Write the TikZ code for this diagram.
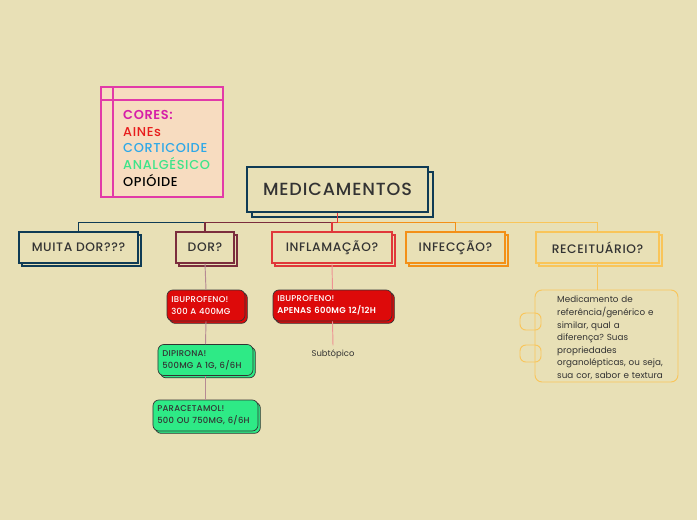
\documentclass[tikz,border=0pt]{standalone}
\usepackage{fontspec}
\setmainfont{Poppins}[UprightFont={* Medium}, BoldFont={* SemiBold}, LetterSpace=5]
\newfontfamily\notefont{Poppins}
\newfontfamily\medfont{Poppins}[UprightFont={* Medium}, BoldFont={* SemiBold}, LetterSpace=3]
\usetikzlibrary{shadows, positioning}
\definecolor{paper}{HTML}{E8E0B6}
\definecolor{peach}{HTML}{F7DCC0}
\definecolor{magentaline}{HTML}{E23AA8}
\definecolor{navy}{HTML}{0F3B55}
\definecolor{maroon}{HTML}{7B2D3D}
\definecolor{redline}{HTML}{E0383A}
\definecolor{orangeline}{HTML}{F39017}
\definecolor{sunline}{HTML}{F9C55A}
\definecolor{medred}{HTML}{DD0A0A}
\definecolor{medgreen}{HTML}{2EEA86}
\definecolor{inkgray}{HTML}{333333}
\definecolor{coresmag}{HTML}{D61EA8}
\definecolor{ainered}{HTML}{E81C1C}
\definecolor{cortblue}{HTML}{2EA8E8}
\definecolor{analggreen}{HTML}{3EE48A}
\frenchspacing

\begin{document}
\begin{tikzpicture}[
    x=0.03cm, y=-0.03cm,
    topic/.style={draw=#1, line width=1.1pt, fill=paper, text=inkgray, font=\fontsize{10.5}{12}\selectfont,
      minimum height=0.93cm, inner sep=0pt,
      general shadow={draw=#1, line width=1.1pt, fill=paper, shadow xshift=0.09cm, shadow yshift=-0.09cm}},
    medbox/.style={draw=inkgray, line width=0.6pt, fill=#1, rounded corners=5pt, align=left,
      font=\medfont\fontsize{7.2}{10}\selectfont, minimum height=0.93cm, inner xsep=0.13cm, inner ysep=0pt,
      general shadow={draw=inkgray, line width=0.6pt, fill=#1, shadow xshift=0.07cm, shadow yshift=-0.07cm}},
    link/.style={line width=1.1pt, draw=#1},
    sublink/.style={line width=0.8pt, draw=#1}
  ]
  % Canvas
  \fill[paper] (0,0) rectangle (697,520);
  \useasboundingbox (0,0) rectangle (697,520);

  % Legend
  \node[draw=magentaline, line width=0.9pt, fill=peach, minimum width=3.66cm, minimum height=3.3cm] (legend) at (162,142) {};
  \draw[magentaline, line width=0.9pt] (113,87) -- (113,197);
  \draw[magentaline, line width=0.9pt] (101,100) -- (223,100);
  \node[anchor=north west, align=left, inner sep=0pt, font=\fontsize{11}{14.3}\selectfont] (colours) at (123,110)
    {\textcolor{coresmag}{\textbf{CORES:}}\\
     \textcolor{ainered}{AINEs}\\
     \textcolor{cortblue}{CORTICOIDE}\\
     \textcolor{analggreen}{ANALGÉSICO}\\
     \textcolor{black}{OPIÓIDE}};

  % Central topic
  \node[draw=navy, line width=1.3pt, fill=paper, text=inkgray, minimum width=5.43cm, minimum height=1.35cm,
    font=\fontsize{15}{18}\selectfont,
    general shadow={draw=navy, line width=1.3pt, fill=paper, shadow xshift=0.15cm, shadow yshift=-0.15cm}]
    (med) at (337.5,189.5) {MEDICAMENTOS};

  % Main topics
  \node[topic=navy, minimum width=3.57cm] (muita) at (78.5,247.5) {MUITA DOR???};
  \node[topic=maroon, minimum width=1.74cm] (dor) at (205,247.5) {DOR?};
  \node[topic=redline, minimum width=3.6cm] (inflam) at (332,247.5) {INFLAMAÇÃO?};
  \node[topic=orangeline, minimum width=2.97cm] (infec) at (455.5,247.5) {INFECÇÃO?};
  \node[topic=sunline, minimum width=3.69cm] (receit) at (597.5,247.5) {RECEITUÁRIO?};

  % Branches from the centre
  \draw[link=navy] (med.south) -- ++(0,10) -| (muita.north);
  \draw[link=maroon] (med.south) -- ++(0,10) -| (dor.north);
  \draw[link=sunline] (med.south) -- ++(0,10) -| (receit.north);
  \draw[link=orangeline] (med.south) -- ++(0,10) -| (infec.north);
  \draw[link=redline] (med.south) -- ++(0,10) -| (inflam.north);

  % Subtopics of DOR?
  \node[medbox=medred, text=white, text width=2.08cm] (ibuA) at (206,305.5) {IBUPROFENO!\\300 A 400MG};
  \node[medbox=medgreen, text=inkgray, text width=2.59cm] (dipi) at (205.5,360) {DIPIRONA!\\500MG A 1G, 6/6H};
  \node[medbox=medgreen, text=inkgray, text width=2.89cm] (para) at (205.5,415.5) {PARACETAMOL!\\500 OU 750MG, 6/6H};
  \draw[sublink=maroon!55] (dor.south) -- (ibuA.north);
  \draw[sublink=maroon!55] (ibuA.south) -- (dipi.north);
  \draw[sublink=maroon!55] (dipi.south) -- (para.north);

  % Subtopics of INFLAMAÇÃO?
  \node[medbox=medred, text=white, text width=3.31cm] (ibuB) at (332.5,305.5) {IBUPROFENO!\\\textbf{APENAS 600MG 12/12H}};
  \node[text=inkgray, font=\notefont\fontsize{7.2}{9}\selectfont] (subtop) at (333,354) {Subtópico};
  \draw[sublink=redline!55] (inflam.south) -- (ibuB.north);
  \draw[sublink=redline!55] (ibuB.south) -- (subtop.north);

  % Note of RECEITUÁRIO?
  \node[draw=sunline, line width=0.8pt, rounded corners=5pt, minimum width=0.63cm, minimum height=0.51cm] (tabA) at (530.5,321.5) {};
  \node[draw=sunline, line width=0.8pt, rounded corners=5pt, minimum width=0.63cm, minimum height=0.51cm] (tabB) at (530.5,353.5) {};
  \node[draw=sunline, line width=0.8pt, rounded corners=6pt, minimum width=4.29cm, minimum height=2.76cm] (callout) at (606.5,336) {};
  \node[anchor=north west, align=left, inner sep=0pt, text=inkgray, text width=3.5cm,
    font=\notefont\fontsize{7.5}{10.7}\selectfont] (note) at (557,296)
    {Medicamento de\\referência/genérico e\\similar, qual a\\diferença? Suas\\propriedades\\organolépticas, ou seja,\\sua cor, sabor e textura};
  \draw[sublink=sunline] (receit.south) -- (receit.south |- callout.north);
\end{tikzpicture}
\end{document}
